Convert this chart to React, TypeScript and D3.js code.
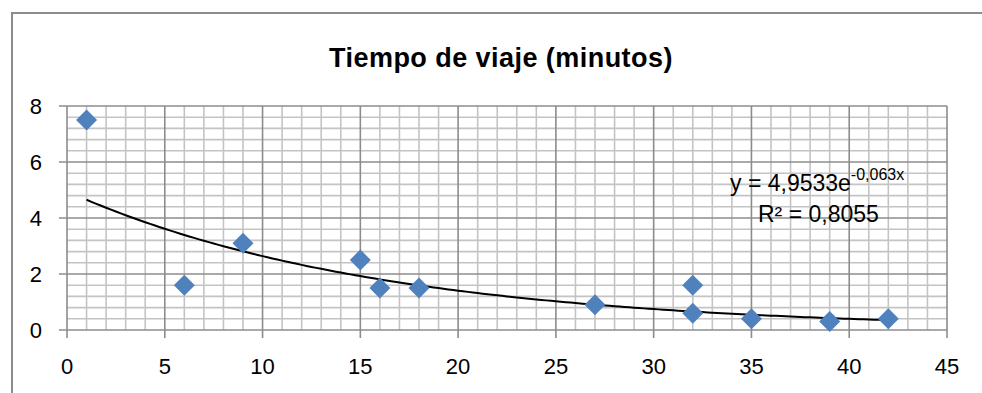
import React from "react";
import * as d3 from "d3";

const xValues = [1, 6, 9, 15, 16, 18, 27, 32, 32, 35, 39, 42];
const yValues = [7.5, 1.6, 3.1, 2.5, 1.5, 1.5, 0.9, 1.6, 0.6, 0.4, 0.3, 0.4];
const xTicks = [0, 5, 10, 15, 20, 25, 30, 35, 40, 45];
const yTicks = [0, 2, 4, 6, 8];
const trendA = 4.9533;
const trendB = -0.063;
const title = "Tiempo de viaje (minutos)";

const W = 982, H = 393;
const L = 67, R = 947, T = 106, B = 330;

export default function App() {
  const x = d3.scaleLinear().domain([0, 45]).range([L, R]);
  const y = d3.scaleLinear().domain([0, 8]).range([B, T]);
  const minorX = d3.range(0, 46, 1).filter((v) => v % 5 !== 0);
  const minorY = d3.range(0, 8.01, 0.4).filter((v) => Math.abs(v / 2 - Math.round(v / 2)) > 1e-6);
  const xMin = d3.min(xValues)!, xMax = d3.max(xValues)!;
  const trendPts = d3.range(xMin, xMax + 0.001, 0.25).map((v) => [v, trendA * Math.exp(trendB * v)] as [number, number]);
  const line = d3.line<[number, number]>().x((d) => x(d[0])).y((d) => y(d[1]));
  const font = "'Liberation Sans', Arial, sans-serif";
  const minorC = "#c4c4c4", majorC = "#8c8c8c";
  return (
    <svg width={W} height={H} style={{ position: "absolute", left: 0, top: 0, background: "#fff" }} fontFamily={font}>
      <rect x={0} y={0} width={W} height={H} fill="#fff" />
      <rect x={12} y={13} width={W + 20} height={H + 20} fill="#fff" stroke="#8c8c8c" strokeWidth={2} />
      <text x={501} y={67} textAnchor="middle" fontSize={27} fontWeight="bold" letterSpacing={0.45} fill="#000">{title}</text>
      {minorX.map((v) => (
        <line key={"mx" + v} x1={x(v)} x2={x(v)} y1={T} y2={B} stroke={minorC} strokeWidth={1.6} />
      ))}
      {minorY.map((v) => (
        <line key={"my" + v} x1={L} x2={R} y1={y(v)} y2={y(v)} stroke={minorC} strokeWidth={1.6} />
      ))}
      {xTicks.map((v) => (
        <line key={"gx" + v} x1={x(v)} x2={x(v)} y1={T} y2={B + 8} stroke={majorC} strokeWidth={1.6} />
      ))}
      {yTicks.map((v) => (
        <line key={"gy" + v} x1={L - 8} x2={R} y1={y(v)} y2={y(v)} stroke={majorC} strokeWidth={1.6} />
      ))}
      {xTicks.map((v) => (
        <text key={"tx" + v} x={x(v)} y={B + 44} textAnchor="middle" fontSize={22} fill="#000">{v}</text>
      ))}
      {yTicks.map((v) => (
        <text key={"ty" + v} x={42} y={y(v) + 8} textAnchor="end" fontSize={22} fill="#000">{v}</text>
      ))}
      <path d={line(trendPts)!} fill="none" stroke="#000" strokeWidth={2} />
      {xValues.map((v, i) => {
        const cx = x(v), cy = y(yValues[i]), s = 10.5;
        return (
          <path key={"p" + i} d={`M${cx},${cy - s}L${cx + s},${cy}L${cx},${cy + s}L${cx - s},${cy}Z`} fill="#4F81BD" />
        );
      })}
      <text x={730} y={191} fontSize={23} fill="#000">
        y = 4,9533e<tspan dy={-11} fontSize={16}>-0,063x</tspan>
      </text>
      <text x={758} y={222} fontSize={23} fill="#000">R² = 0,8055</text>
    </svg>
  );
}
